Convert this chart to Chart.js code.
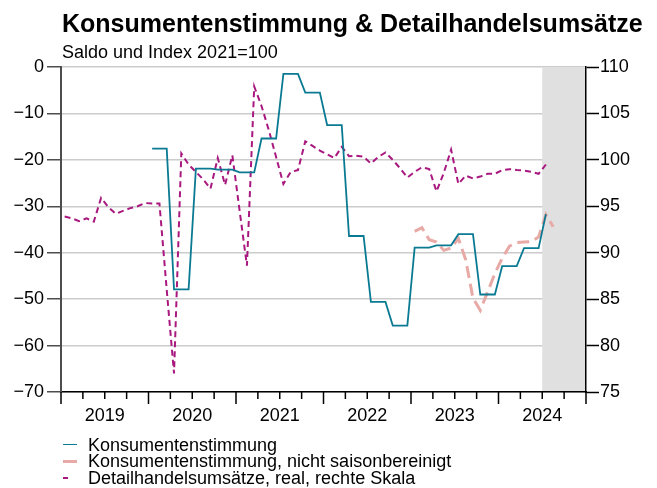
<!DOCTYPE html>
<html>
<head>
<meta charset="utf-8">
<script src="https://cdn.jsdelivr.net/npm/chart.js@4.4.1/dist/chart.umd.min.js"></script>
<style>
body{margin:0;background:#fff;}
#wrap{position:relative;width:657px;height:488px;overflow:hidden;font-family:"Liberation Sans",Arial,sans-serif;color:#000;}
#c{position:absolute;left:0;top:0;}
.t{position:absolute;white-space:nowrap;}
</style>
</head>
<body>
<div id="wrap">
<canvas id="c" width="657" height="488"></canvas>
<div class="t" style="left:62px;top:11px;font-size:25px;font-weight:bold;line-height:25px;">Konsumentenstimmung &amp; Detailhandelsumsätze</div>
<div class="t" style="left:62px;top:43px;font-size:18px;line-height:18px;">Saldo und Index 2021=100</div>
<div id="legend"></div>
</div>
<script>
// Monate (Monatsmitte wird als x-Position verwendet)
var months = [
	'2019-01','2019-02','2019-03','2019-04','2019-05','2019-06','2019-07','2019-08','2019-09','2019-10','2019-11','2019-12',
	'2020-01','2020-02','2020-03','2020-04','2020-05','2020-06','2020-07','2020-08','2020-09','2020-10','2020-11','2020-12',
	'2021-01','2021-02','2021-03','2021-04','2021-05','2021-06','2021-07','2021-08','2021-09','2021-10','2021-11','2021-12',
	'2022-01','2022-02','2022-03','2022-04','2022-05','2022-06','2022-07','2022-08','2022-09','2022-10','2022-11','2022-12',
	'2023-01','2023-02','2023-03','2023-04','2023-05','2023-06','2023-07','2023-08','2023-09','2023-10','2023-11','2023-12',
	'2024-01','2024-02','2024-03','2024-04','2024-05','2024-06','2024-07','2024-08'
];

// Konsumentenstimmung (Saldo, linke Skala)
var konsum = [
	null,null,null,null,null,null,null,null,null,null,null,null,
	-17.6,-17.6,-17.6,-47.9,-47.9,-47.9,-21.9,-21.9,-21.9,-22.1,-22.1,-22.1,
	-22.7,-22.7,-22.7,-15.4,-15.4,-15.4,-1.5,-1.5,-1.5,-5.5,-5.5,-5.5,
	-12.5,-12.5,-12.5,-36.4,-36.4,-36.4,-50.6,-50.6,-50.6,-55.7,-55.7,-55.7,
	-38.9,-38.9,-38.9,-38.4,-38.4,-38.4,-36.0,-36.0,-36.0,-49.0,-49.0,-49.0,
	-42.9,-42.9,-42.9,-39.0,-39.0,-39.0,-31.7,null
];

// Konsumentenstimmung, nicht saisonbereinigt (linke Skala)
var konsumNSA = [
	null,null,null,null,null,null,null,null,null,null,null,null,
	null,null,null,null,null,null,null,null,null,null,null,null,
	null,null,null,null,null,null,null,null,null,null,null,null,
	null,null,null,null,null,null,null,null,null,null,null,null,
	-35.4,-34.6,-37.2,-37.7,-39.5,-39.0,-36.9,-41.5,-49.8,-52.4,-48.5,-44.5,
	-41.2,-38.6,-37.8,-37.7,-37.6,-36.6,-31.8,-34.4
];

// Detailhandelsumsätze, real (Index 2021=100, rechte Skala)
var detailhandel = [
	93.9,93.7,93.4,93.7,93.35,95.9,94.9,94.2,94.5,94.8,95.0,95.35,
	95.3,95.3,86.0,77.0,100.7,99.5,98.7,97.9,96.9,100.2,97.3,100.5,
	94.5,88.6,107.9,105.8,103.2,100.3,97.4,98.7,98.9,102.0,101.5,101.0,
	100.6,100.2,101.4,100.4,100.45,100.35,99.6,100.3,100.8,100.0,99.1,98.1,
	98.7,99.2,99.0,96.6,98.6,101.1,97.4,98.3,98.0,98.2,98.5,98.5,
	98.9,99.0,98.9,98.85,98.7,98.5,99.5,null
];

var yearLabels = [2019, 2020, 2021, 2022, 2023, 2024];
var shadeFrom = 2024.5;

var teal = '#0a7a93';
var rose = '#e8aaa6';
var magenta = '#a8187f';

function toPoints(values){
	var pts = [];
	for (var i in months) {
		var p = months[i].split('-');
		pts.push({x: parseInt(p[0]) + (parseInt(p[1]) - 0.5) / 12, y: values[i]});
	}
	return pts;
}

var decor = {
	id: 'decor',
	beforeDatasetsDraw: function(chart){
		var ctx = chart.ctx, a = chart.chartArea, x = chart.scales.x;
		var x0 = x.getPixelForValue(shadeFrom);
		ctx.save();
		ctx.fillStyle = '#e0e0e0';
		ctx.fillRect(x0, a.top, a.right - x0 - 1, a.bottom - a.top - 1);
		ctx.restore();
	},
	afterDraw: function(chart){
		var ctx = chart.ctx, a = chart.chartArea, x = chart.scales.x;
		ctx.save();
		ctx.strokeStyle = '#000';
		ctx.lineWidth = 1.5;
		for (var q = 0; q <= 24; q++) {
			var px = x.getPixelForValue(2019 + q / 4);
			ctx.beginPath();
			ctx.moveTo(px, a.bottom);
			ctx.lineTo(px, a.bottom + (q % 4 === 0 ? 12 : 7));
			ctx.stroke();
		}
		ctx.restore();
	}
};

var tickFont = {family: '"Liberation Sans", Arial, sans-serif', size: 18};

var chartdata = {
	datasets: [
		{
			label: 'Konsumentenstimmung',
			data: toPoints(konsum),
			yAxisID: 'y',
			borderColor: teal,
			borderWidth: 1.8,
			pointRadius: 0,
			tension: 0,
			fill: false
		},
		{
			label: 'Konsumentenstimmung, nicht saisonbereinigt',
			data: toPoints(konsumNSA),
			yAxisID: 'y',
			borderColor: rose,
			borderWidth: 3,
			borderDash: [12, 6],
			pointRadius: 0,
			tension: 0,
			fill: false
		},
		{
			label: 'Detailhandelsumsätze, real, rechte Skala',
			data: toPoints(detailhandel),
			yAxisID: 'y2',
			borderColor: magenta,
			borderWidth: 2,
			borderDash: [6, 4],
			pointRadius: 0,
			tension: 0,
			fill: false
		}
	]
};

var chart = new Chart(document.getElementById('c'), {
	type: 'line',
	data: chartdata,
	plugins: [decor],
	options: {
		responsive: false,
		animation: false,
		layout: {padding: {top: 67, right: 25, left: 0, bottom: 0}},
		plugins: {legend: {display: false}, tooltip: {enabled: false}},
		scales: {
			x: {
				type: 'linear', min: 2019, max: 2025,
				afterBuildTicks: function(s){ s.ticks = yearLabels.map(function(y){ return {value: y + 0.5}; }); },
				ticks: {
					callback: function(v){ return String(Math.floor(v)); },
					font: tickFont, color: '#000', padding: 13, autoSkip: false, maxRotation: 0
				},
				grid: {display: false, drawTicks: false},
				border: {display: true, color: '#000', width: 1.5},
				afterFit: function(s){ s.height = 96; }
			},
			y: {
				position: 'left', min: -70, max: 0,
				ticks: {
					stepSize: 10,
					callback: function(v){ return v < 0 ? '\u2212' + Math.abs(v) : String(v); },
					font: tickFont, color: '#000', padding: 3
				},
				grid: {color: '#cccccc', lineWidth: 1.5, tickColor: '#4d4d4d', tickLength: 14, tickWidth: 1.5},
				border: {color: '#4d4d4d', width: 2},
				afterFit: function(s){ s.width = 61; }
			},
			y2: {
				position: 'right', min: 75, max: 110,
				ticks: {stepSize: 5, font: tickFont, color: '#000', padding: 1},
				grid: {drawOnChartArea: false, tickColor: '#000', tickLength: 13, tickWidth: 1.5},
				border: {color: '#000', width: 1.5},
				afterFit: function(s){ s.width = 46; }
			}
		}
	}
});

// Legende unter dem Diagramm
var legend = document.getElementById('legend');
var markerLen = [14, 14, 5];
chartdata.datasets.forEach(function(ds, i){
	var m = document.createElement('div');
	m.style.cssText = 'position:absolute;left:63px;width:' + markerLen[i] + 'px;top:' + (445 + i * 16.5 - ds.borderWidth / 2) + 'px;border-top:' + ds.borderWidth + 'px solid ' + ds.borderColor + ';';
	legend.appendChild(m);
	var t = document.createElement('div');
	t.className = 't';
	t.style.cssText = 'left:88px;top:' + (436.5 + i * 16.5) + 'px;font-size:18px;line-height:16.5px;';
	t.textContent = ds.label;
	legend.appendChild(t);
});
</script>
</body>
</html>
